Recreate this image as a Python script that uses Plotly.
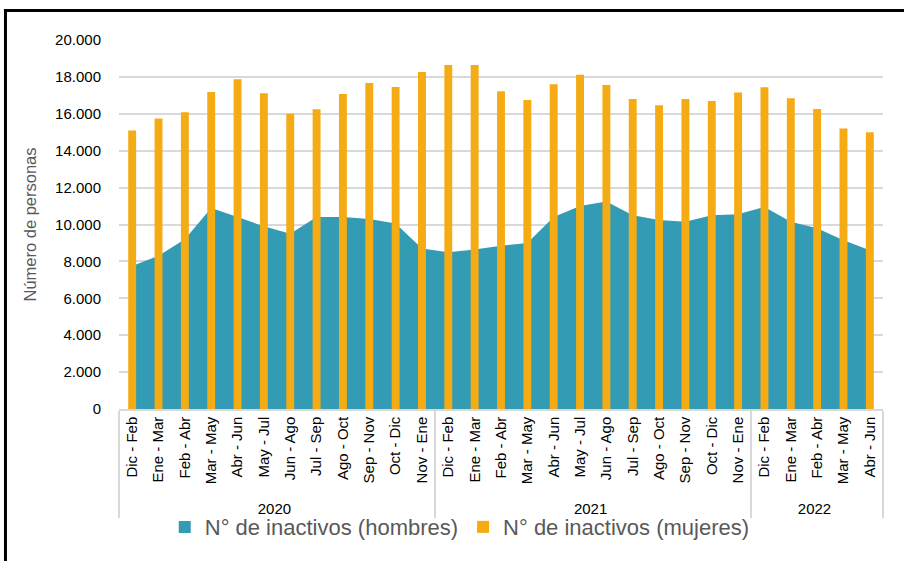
import plotly.graph_objects as go

years = ["2020"] * 12 + ["2021"] * 12 + ["2022"] * 5
base_periods = ["Dic - Feb", "Ene - Mar", "Feb - Abr", "Mar - May", "Abr - Jun", "May - Jul",
                "Jun - Ago", "Jul - Sep", "Ago - Oct", "Sep - Nov", "Oct - Dic", "Nov - Ene"]
periods = base_periods + base_periods + base_periods[:5]

hombres = [7750, 8300, 9200, 10900, 10400, 9900, 9500, 10400, 10400, 10300, 10050, 8700,
           8500, 8650, 8850, 9000, 10400, 11000, 11250, 10500, 10250, 10150, 10500, 10550,
           10950, 10150, 9800, 9150, 8600]
mujeres = [15100, 15750, 16080, 17180, 17870, 17110, 16000, 16240, 17070, 17670, 17450, 18260,
           18650, 18650, 17220, 16750, 17600, 18120, 17560, 16800, 16460, 16800, 16700, 17160,
           17440, 16840, 16260, 15210, 15000]

name_h = "N° de inactivos (hombres)"
name_m = "N° de inactivos (mujeres)"
col_h = "#349BB4"
col_m = "#F5AB14"

x = [years, periods]

fig = go.Figure()
# area (men) on the base subplot
fig.add_trace(go.Scatter(x=x, y=hombres, mode="none", fill="tozeroy", fillcolor=col_h,
                         name=name_h, showlegend=False, legendgroup="h",
                         xaxis="x", yaxis="y", hoverinfo="x+y"))
# legend-only square swatch for the men's area (zero height, invisible on the plot)
fig.add_trace(go.Bar(x=[[years[0]], [periods[0]]], y=[0], name=name_h, marker_color=col_h,
                     marker_line_width=0, showlegend=True, legendgroup="h",
                     hoverinfo="skip", xaxis="x", yaxis="y"))
# bars (women) on an overlaying subplot so they sit above the area
fig.add_trace(go.Bar(x=x, y=mujeres, name=name_m, marker_color=col_m, width=0.3,
                     marker_line_width=0, xaxis="x2", yaxis="y2"))

tickfont = dict(family="Liberation Sans", size=15, color="#000000")

fig.update_layout(
    width=904, height=561,
    margin=dict(l=119, r=21, t=40, b=152, autoexpand=False),
    paper_bgcolor="white", plot_bgcolor="white",
    separators=",.",
    barmode="overlay",
    font=dict(family="Liberation Sans", color="#595959"),
    xaxis=dict(type="multicategory", tickangle=-90, tickfont=tickfont,
               showline=True, linecolor="#D9D9D9", linewidth=1.5,
               showdividers=True, dividercolor="#D9D9D9", dividerwidth=1.5,
               showgrid=False, ticks="", automargin=False),
    xaxis2=dict(type="multicategory", overlaying="x", matches="x", visible=False),
    yaxis=dict(range=[0, 20000], dtick=2000, tickformat=",d", tickfont=tickfont,
               showgrid=True, gridcolor="#D9D9D9", gridwidth=1.5, zeroline=False,
               ticklabelstandoff=17, automargin=False,
               title=dict(text="Número de personas", font=dict(size=16.5, color="#595959"),
                          standoff=14)),
    yaxis2=dict(range=[0, 20000], overlaying="y", matches="y", visible=False),
    legend=dict(orientation="h", x=0.446, xanchor="center", y=-0.32, yanchor="middle",
                font=dict(size=22, color="#595959"), itemwidth=30,
                bgcolor="rgba(0,0,0,0)"),
    shapes=[dict(type="rect", xref="paper", yref="paper",
                 x0=-0.1486, x1=1.3, y0=-0.8, y1=1.08,
                 line=dict(color="black", width=3), fillcolor="rgba(0,0,0,0)",
                 layer="above")],
)

fig.write_html("out.html",
               config={"displayModeBar": False},
               post_script="document.body.style.margin='0';document.body.style.overflow='hidden';")
